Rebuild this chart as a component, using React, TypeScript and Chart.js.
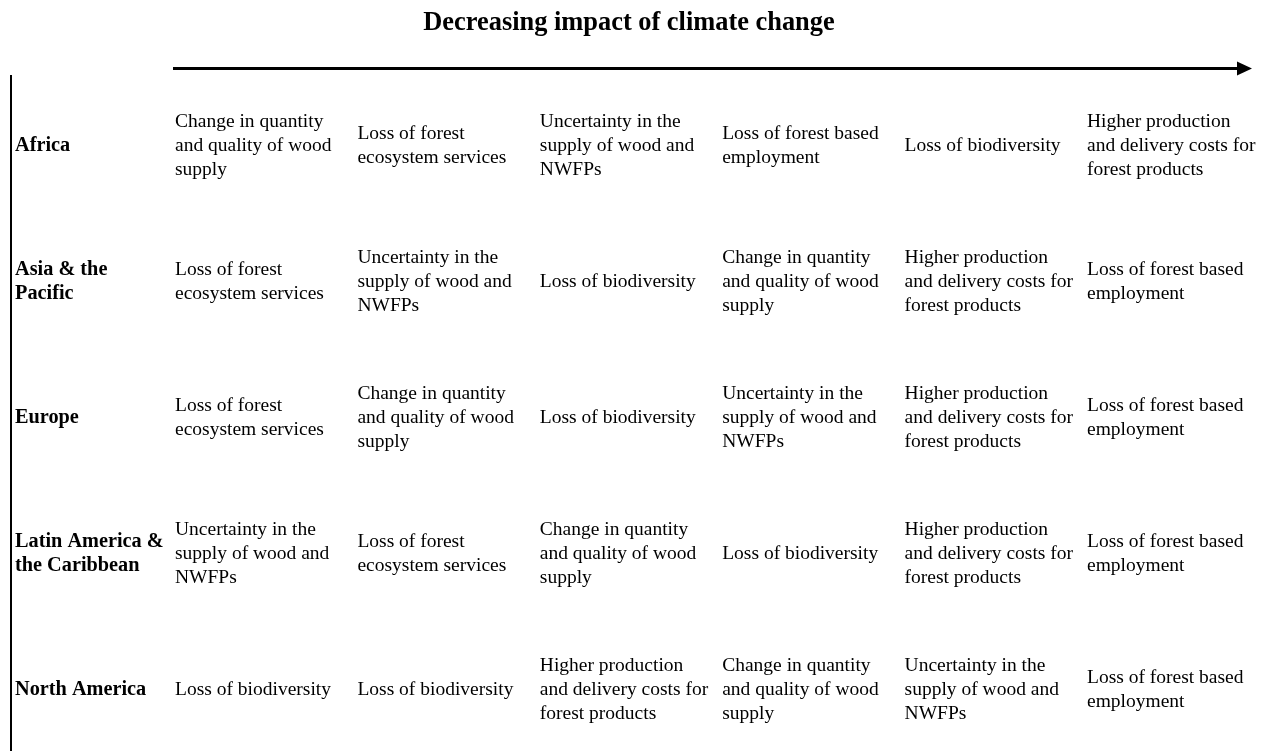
import { useEffect, useRef } from "react";
import { Chart, registerables } from "chart.js";

Chart.register(...registerables);

const TITLE = "Decreasing impact of climate change";

const REGIONS = [
  "Africa",
  "Asia & the Pacific",
  "Europe",
  "Latin America & the Caribbean",
  "North America",
];

const REGION_LABEL_LINES = [
  ["Africa"],
  ["Asia & the", "Pacific"],
  ["Europe"],
  ["Latin America &", "the Caribbean"],
  ["North America"],
];

// rank 1 = strongest impact ... rank 6 = weakest
const RANKS = [1, 2, 3, 4, 5, 6];

const CHANGE = "Change in quantity and quality of wood supply";
const ECOSYS = "Loss of forest ecosystem services";
const UNCERT = "Uncertainty in the supply of wood and NWFPs";
const EMPLOY = "Loss of forest based employment";
const BIODIV = "Loss of biodiversity";
const COSTS = "Higher production and delivery costs for forest products";

const AFRICA = [CHANGE, ECOSYS, UNCERT, EMPLOY, BIODIV, COSTS];
const ASIA_PACIFIC = [ECOSYS, UNCERT, BIODIV, CHANGE, COSTS, EMPLOY];
const EUROPE = [ECOSYS, CHANGE, BIODIV, UNCERT, COSTS, EMPLOY];
const LATIN_AMERICA = [UNCERT, ECOSYS, CHANGE, BIODIV, COSTS, EMPLOY];
const NORTH_AMERICA = [BIODIV, BIODIV, COSTS, CHANGE, UNCERT, EMPLOY];

const RANKINGS = [AFRICA, ASIA_PACIFIC, EUROPE, LATIN_AMERICA, NORTH_AMERICA];

const IMPACT_LINES: Record<string, string[]> = {
  [CHANGE]: ["Change in quantity", "and quality of wood", "supply"],
  [ECOSYS]: ["Loss of forest", "ecosystem services"],
  [UNCERT]: ["Uncertainty in the", "supply of wood and", "NWFPs"],
  [EMPLOY]: ["Loss of forest based", "employment"],
  [BIODIV]: ["Loss of biodiversity"],
  [COSTS]: ["Higher production", "and delivery costs for", "forest products"],
};

const FONT_FAMILY = "'Liberation Serif', 'Times New Roman', serif";
const CELL_FONT = `19.5px ${FONT_FAMILY}`;
const LABEL_FONT = `bold 20.3px ${FONT_FAMILY}`;
const TITLE_FONT = `bold 26.4px ${FONT_FAMILY}`;
const LINE_H = 24;

const tablePlugin = {
  id: "tableText",
  afterDatasetsDraw(chart: any) {
    const ctx = chart.ctx as CanvasRenderingContext2D;
    const yScale = chart.scales.y;
    const xScale = chart.scales.x;
    ctx.save();
    ctx.fillStyle = "#000";
    ctx.strokeStyle = "#000";
    ctx.textBaseline = "middle";

    // title
    ctx.font = TITLE_FONT;
    ctx.textAlign = "center";
    ctx.fillText(TITLE, 629, 23.5);

    // arrow
    const ax0 = xScale.getPixelForValue(1) - 2;
    const ax1 = 1252;
    const ay = 68.5;
    ctx.lineWidth = 3;
    ctx.beginPath();
    ctx.moveTo(ax0, ay);
    ctx.lineTo(ax1 - 12, ay);
    ctx.stroke();
    ctx.beginPath();
    ctx.moveTo(ax1, ay);
    ctx.lineTo(ax1 - 15, ay - 7);
    ctx.lineTo(ax1 - 15, ay + 7);
    ctx.closePath();
    ctx.fill();

    // left vertical rule
    ctx.lineWidth = 2;
    ctx.beginPath();
    ctx.moveTo(11, 75);
    ctx.lineTo(11, chart.height);
    ctx.stroke();

    // region labels
    ctx.textAlign = "left";
    ctx.font = LABEL_FONT;
    REGION_LABEL_LINES.forEach((lines, i) => {
      const cy = yScale.getPixelForValue(i) + 1;
      const y0 = cy - ((lines.length - 1) * LINE_H) / 2;
      lines.forEach((ln, k) => ctx.fillText(ln, 15, y0 + k * LINE_H));
    });

    // cells
    ctx.font = CELL_FONT;
    const meta = chart.getDatasetMeta(0);
    const data = chart.data.datasets[0].data as any[];
    meta.data.forEach((el: any, idx: number) => {
      const lines = IMPACT_LINES[data[idx].impact] || [data[idx].impact];
      const y0 = el.y + 1 - ((lines.length - 1) * LINE_H) / 2;
      lines.forEach((ln: string, k: number) => ctx.fillText(ln, el.x, y0 + k * LINE_H));
    });
    ctx.restore();
  },
};

export default function App() {
  const ref = useRef<HTMLCanvasElement | null>(null);

  useEffect(() => {
    document.body.style.margin = "0";
    if (!ref.current) return;
    const points: any[] = [];
    RANKINGS.forEach((row, i) => {
      row.forEach((impact, j) => {
        points.push({ x: RANKS[j], y: i, impact, region: REGIONS[i] });
      });
    });
    const chart = new Chart(ref.current, {
      type: "scatter",
      data: {
        datasets: [
          {
            label: "Impacts",
            data: points,
            pointRadius: 0,
            pointHoverRadius: 0,
          },
        ],
      },
      options: {
        animation: false,
        responsive: false,
        events: [],
        layout: { padding: { left: 175, right: 181, top: 144.5, bottom: 62.5 } },
        plugins: { legend: { display: false }, tooltip: { enabled: false }, title: { display: false } },
        scales: {
          x: { type: "linear", min: 1, max: 6, display: false },
          y: { type: "linear", min: 0, max: 4, reverse: true, display: false },
        },
      },
      plugins: [tablePlugin],
    });
    return () => chart.destroy();
  }, []);

  return (
    <div style={{ position: "absolute", left: 0, top: 0, width: 1268, height: 751, background: "#fff" }}>
      <canvas ref={ref} width={1268} height={751} style={{ display: "block" }} />
    </div>
  );
}
